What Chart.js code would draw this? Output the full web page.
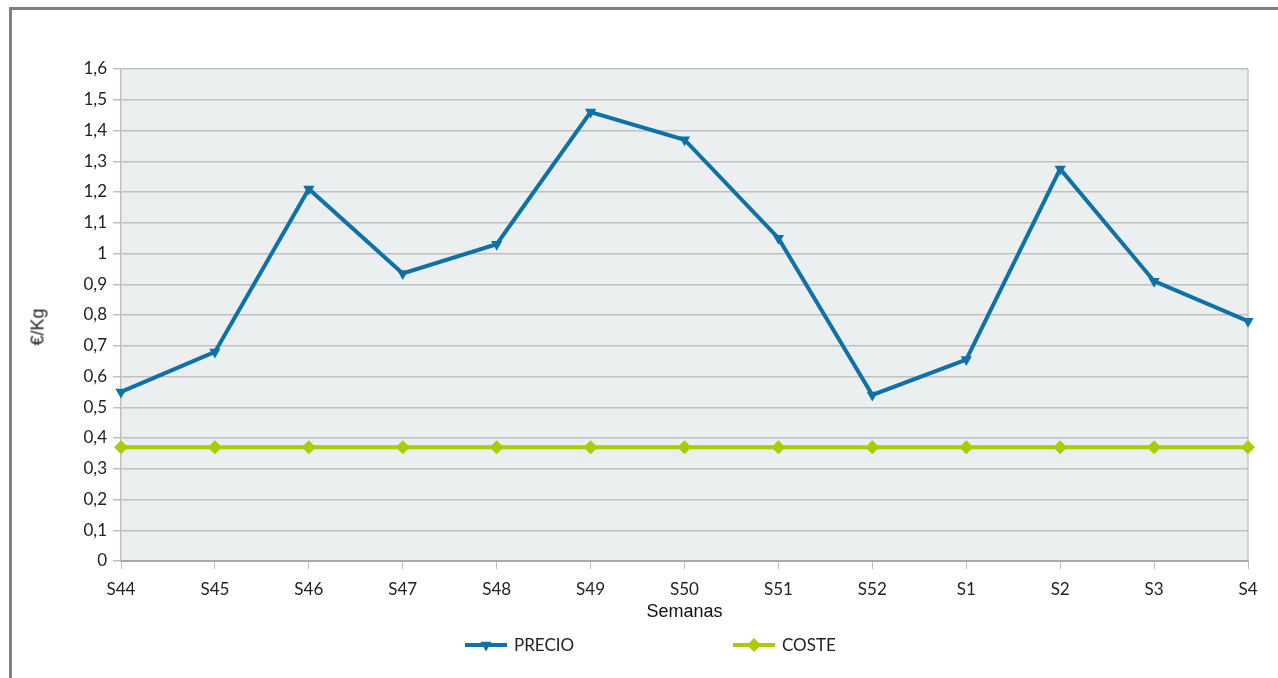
<!DOCTYPE html>
<html>
<head>
<meta charset="utf-8">
<script src="https://cdn.jsdelivr.net/npm/chart.js@4.4.0/dist/chart.umd.min.js"></script>
<style>
    html, body { margin:0; padding:0; background:#fff; overflow:hidden; }
    #marco { position:absolute; left:9px; top:7px; width:1320px; height:720px; border-left:3px solid #808080; border-top:3px solid #808080; }
    #wrap { position:absolute; left:0; top:0; width:1278px; height:678px; }
    #tituloY { position:absolute; left:38px; top:327px; transform:translate(-50%,-50%) rotate(-90deg); font:18px "Liberation Sans", Arial, sans-serif; color:#222; white-space:nowrap; }
</style>
</head>
<body>
<div id="marco"></div>
<div id="wrap"><canvas id="graficoPrecios" width="1278" height="678"></canvas></div>
<div id="tituloY">€/Kg</div>
<script>
// datos
const semanas = ['S44','S45','S46','S47','S48','S49','S50','S51','S52','S1','S2','S3','S4'];
const precio  = [0.55, 0.68, 1.21, 0.935, 1.03, 1.46, 1.37, 1.05, 0.54, 0.655, 1.275, 0.91, 0.78];
const coste   = [0.37, 0.37, 0.37, 0.37, 0.37, 0.37, 0.37, 0.37, 0.37, 0.37, 0.37, 0.37, 0.37];
const ejeY    = { min: 0, max: 1.6, paso: 0.1 };

const fuenteTicks = { family: 'Lato, "Noto Sans", sans-serif', size: 17 };

// fondo gris del area de trazado
const fondoPlugin = {
    id: 'fondo',
    beforeDraw(chart) {
        const { ctx, chartArea: a } = chart;
        ctx.save();
        ctx.fillStyle = '#ebeff0';
        ctx.fillRect(a.left, a.top, a.right - a.left, a.bottom - a.top);
        ctx.strokeStyle = '#c4c4c4';
        ctx.lineWidth = 1.5;
        ctx.beginPath();
        ctx.moveTo(a.right, a.top);
        ctx.lineTo(a.right, a.bottom);
        ctx.stroke();
        ctx.restore();
    }
};

// leyenda dibujada a mano (separacion grande entre items)
const leyendaPlugin = {
    id: 'leyenda',
    afterDraw(chart) {
        const ctx = chart.ctx;
        const inicios = [465, 733];
        const y = 645;
        chart.data.datasets.forEach((ds, i) => {
            const x = inicios[i];
            ctx.save();
            ctx.strokeStyle = ds.borderColor;
            ctx.lineWidth = 4;
            ctx.beginPath();
            ctx.moveTo(x, y);
            ctx.lineTo(x + 42, y);
            ctx.stroke();
            ctx.fillStyle = ds.pointBackgroundColor;
            Chart.helpers.drawPoint(ctx, {
                pointStyle: ds.pointStyle,
                rotation: ds.pointRotation || 0,
                radius: ds.pointRadius,
                borderWidth: 0
            }, x + 21, y);
            ctx.fillStyle = '#222';
            ctx.font = '17px Lato, "Noto Sans", sans-serif';
            ctx.textBaseline = 'middle';
            ctx.textAlign = 'left';
            ctx.fillText(ds.label, x + 49, y + 1);
            ctx.restore();
        });
    }
};

const ctx = document.getElementById('graficoPrecios').getContext('2d');
const grafico = new Chart(ctx, {
    type: 'line',
    data: {
        labels: semanas,
        datasets: [
            {
                label: 'PRECIO',
                data: precio,
                borderColor: '#0e72a7',
                backgroundColor: '#0e72a7',
                pointBackgroundColor: '#0e72a7',
                borderWidth: 4,
                pointStyle: 'triangle',
                pointRotation: 180,
                pointRadius: 6.5,
                pointBorderWidth: 0,
                tension: 0,
                clip: false
            },
            {
                label: 'COSTE',
                data: coste,
                borderColor: '#a8cd00',
                backgroundColor: '#a8cd00',
                pointBackgroundColor: '#a8cd00',
                borderWidth: 4,
                pointStyle: 'rectRot',
                pointRadius: 7,
                pointBorderWidth: 0,
                tension: 0,
                clip: false
            }
        ]
    },
    options: {
        responsive: false,
        animation: false,
        layout: { padding: { left: 0, top: 69, right: 30, bottom: 55 } },
        plugins: {
            legend: { display: false },
            tooltip: { enabled: false }
        },
        scales: {
            x: {
                offset: false,
                grid: { drawOnChartArea: false, drawTicks: true, tickLength: 8, color: '#bdbdbd' },
                border: { color: '#a9a9a9', width: 2 },
                ticks: { color: '#222', font: fuenteTicks, padding: 10, maxRotation: 0, autoSkip: false },
                title: { display: true, text: 'Semanas', color: '#111', font: { family: '"Liberation Sans", Arial, sans-serif', size: 18 }, padding: { top: 2, bottom: 0 } },
                afterFit(scale) { scale.height = 62; }
            },
            y: {
                min: ejeY.min,
                max: ejeY.max,
                grid: { color: '#c0c0c0', lineWidth: 1.5, tickLength: 8 },
                border: { color: '#c0c0c0', width: 1.5 },
                ticks: {
                    stepSize: ejeY.paso,
                    color: '#222',
                    font: fuenteTicks,
                    padding: 6,
                    callback: v => String(Math.round(v * 10) / 10).replace('.', ',')
                },
                afterFit(scale) { scale.width = 121; }
            }
        }
    },
    plugins: [fondoPlugin, leyendaPlugin]
});
</script>
</body>
</html>
